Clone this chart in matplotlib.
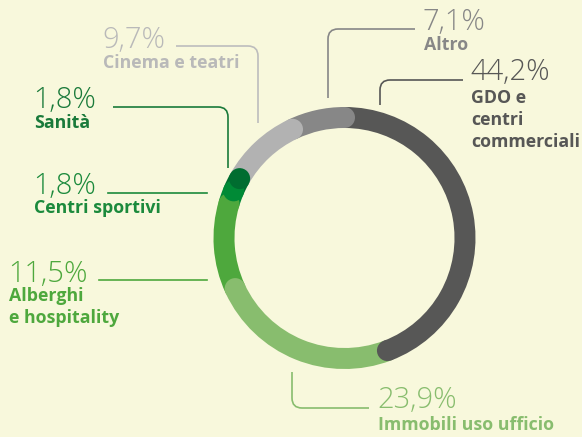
import numpy as np
import matplotlib
matplotlib.use("Agg")
import matplotlib.pyplot as plt
from matplotlib.patches import Wedge, Circle, PathPatch
from matplotlib.path import Path

# dati (quote percentuali, in senso orario dall'alto)
categorie = ["GDO e\ncentri\ncommerciali", "Immobili uso ufficio", "Alberghi\ne hospitality",
             "Centri sportivi", "Sanità", "Cinema e teatri", "Altro"]
valori = [44.2, 23.9, 11.5, 1.8, 1.8, 9.7, 7.1]
etichette_pct = ["44,2%", "23,9%", "11,5%", "1,8%", "1,8%", "9,7%", "7,1%"]

colori = ["#575756", "#88bd6e", "#4ea83d", "#008a36", "#006d30", "#b2b2b2", "#878787"]
colori_testo = ["#575756", "#88bd6e", "#4ea83d", "#1b8a3c", "#1a7a3a", "#b9b9b9", "#878787"]
bg = "#f8f8dc"

W, H = 582, 437
fig = plt.figure(figsize=(W / 100, H / 100), dpi=100, facecolor=bg)
ax = fig.add_axes([0, 0, 1, 1])
ax.set_xlim(0, W)
ax.set_ylim(H, 0)
ax.set_aspect("equal")
ax.axis("off")

cx, cy = 344.5, 238
r_out, larg = 131, 21
r_mid = r_out - larg / 2

tot = sum(valori)
fr = np.cumsum([0] + valori) / tot
ang = -90 + 360 * fr

for i in range(len(valori)):
    ax.add_patch(Wedge((cx, cy), r_out, ang[i], ang[i + 1], width=larg,
                       facecolor=colori[i], edgecolor="none"))
# estremi arrotondati
for i in range(len(valori)):
    t = np.radians(ang[i + 1])
    ax.add_patch(Circle((cx + r_mid * np.cos(t), cy + r_mid * np.sin(t)), larg / 2,
                        facecolor=colori[i], edgecolor="none"))


def linea(x0, y0, xc, y1, col, r=10):
    # orizzontale da (x0,y0) a xc, poi verticale fino a y1 con angolo arrotondato
    sx = np.sign(xc - x0)
    sy = np.sign(y1 - y0)
    verts = [(x0, y0), (xc - sx * r, y0), (xc, y0), (xc, y0 + sy * r), (xc, y1)]
    codes = [Path.MOVETO, Path.LINETO, Path.CURVE3, Path.CURVE3, Path.LINETO]
    ax.add_patch(PathPatch(Path(verts, codes), facecolor="none", edgecolor=col, lw=1.2))


# linee di richiamo
linea(463, 80, 380, 105, colori_testo[0])
linea(369, 408, 292, 372, colori[1])
ax.plot([99, 207], [280, 280], color=colori[2], lw=1.2)
ax.plot([108, 207], [193, 193], color=colori_testo[3], lw=1.2)
linea(113, 107, 228, 168, colori_testo[4])
linea(176, 46, 258, 123, "#bdbdbd")
linea(415, 29, 328, 98, colori[6])

# posizioni testo (x, baseline numero, baseline etichetta)
pos = [(470, 80, 103), (377, 408, 430), (8, 282, 301), (33, 194, 213),
       (33, 108, 128), (102, 48, 68), (423, 30, 50)]

fn = "Open Sans"
for i, (x, yb, yl) in enumerate(pos):
    ax.text(x, yb, etichette_pct[i], color=colori_testo[i], fontsize=21, fontfamily=fn,
            fontweight="light", ha="left", va="baseline")
    for k, riga in enumerate(categorie[i].split("\n")):
        ax.text(x + 1, yl + 22 * k, riga, color=colori_testo[i], fontsize=12.8, fontfamily=fn,
                fontweight="bold", ha="left", va="baseline")

fig.savefig("out.png", dpi=100, facecolor=bg)
